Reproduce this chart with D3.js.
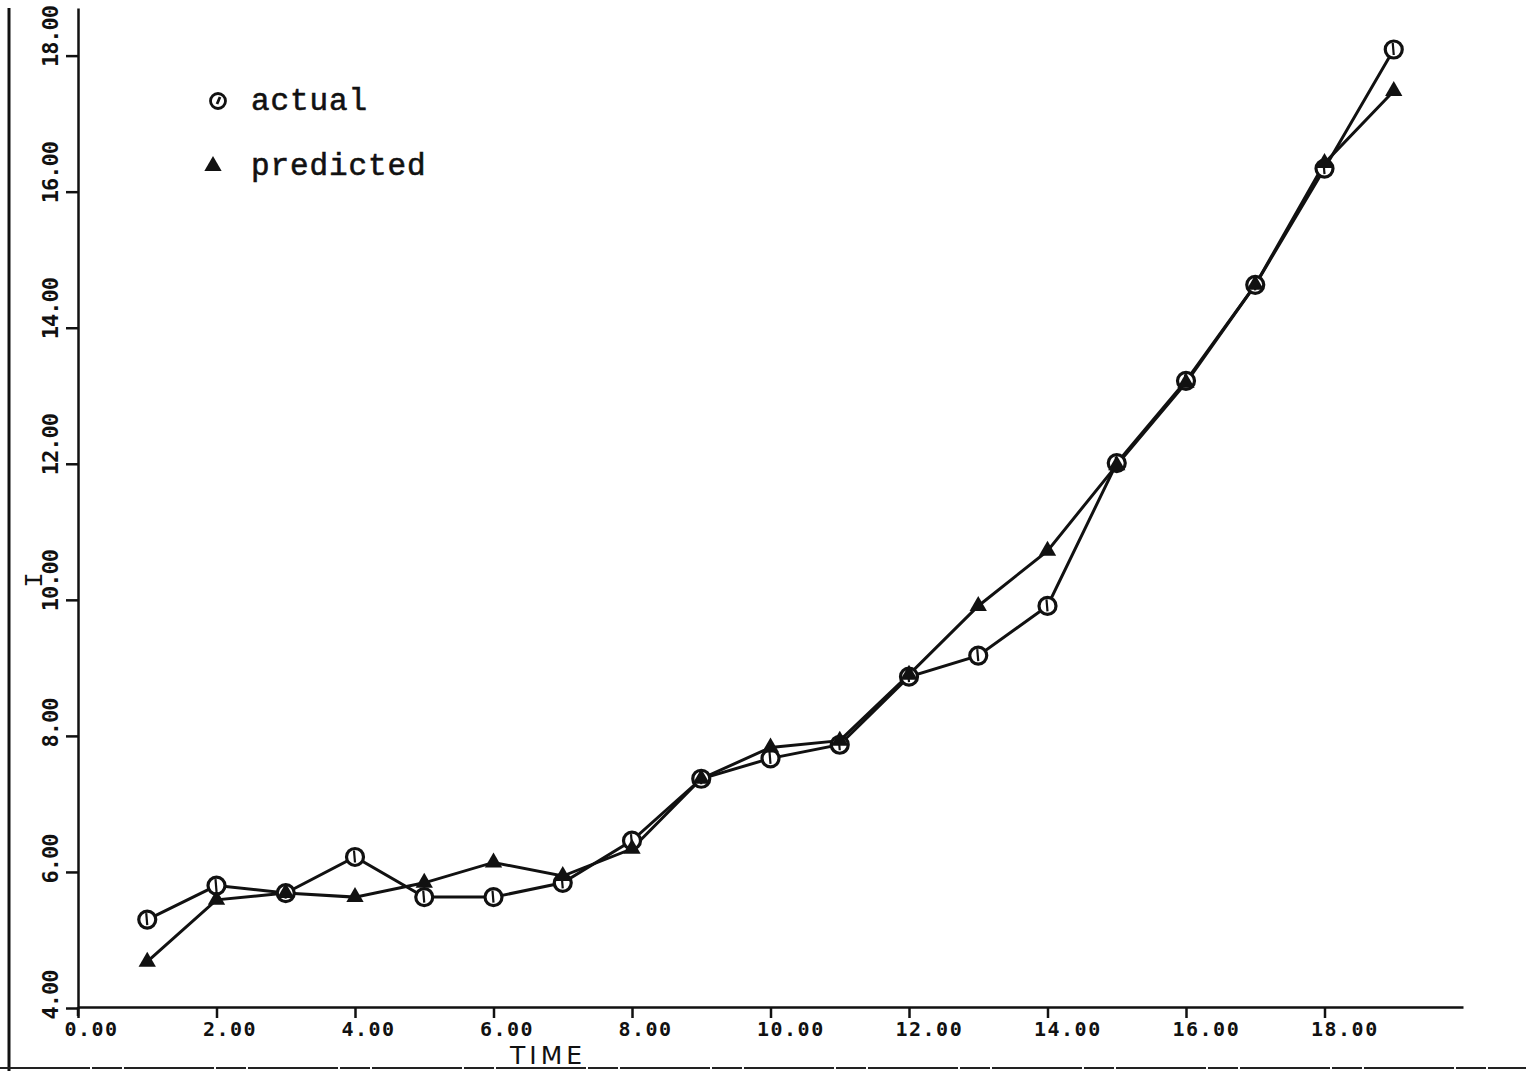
<!DOCTYPE html>
<html>
<head>
<meta charset="utf-8">
<script src="https://cdn.jsdelivr.net/npm/d3@7"></script>
<style>
  html, body { margin: 0; padding: 0; background: #fff; }
  svg { display: block; }
</style>
</head>
<body>
<svg id="chart" width="1526" height="1073"></svg>
<script>
// Time index of each observation
const time = [1, 2, 3, 4, 5, 6, 7, 8, 9, 10, 11, 12, 13, 14, 15, 16, 17, 18, 19];
// Observed values of I
const actual = [5.30, 5.80, 5.69, 6.22, 5.63, 5.63, 5.84, 6.46, 7.37, 7.67, 7.87, 8.87, 9.18, 9.91, 12.01, 13.22, 14.63, 16.34, 18.09];
// Model predictions of I
const predicted = [4.68, 5.59, 5.69, 5.63, 5.84, 6.14, 5.94, 6.34, 7.37, 7.83, 7.93, 8.90, 9.91, 10.72, 11.98, 13.19, 14.63, 16.42, 17.48];
// Axis ticks
const xTicks = [0, 2, 4, 6, 8, 10, 12, 14, 16, 18];
const yTicks = [4, 6, 8, 10, 12, 14, 16, 18];
const seriesNames = ["actual", "predicted"];
const xTitle = "TIME";
const yTitle = "I";

const svg = d3.select("#chart");
const ink = "#111";

const x = d3.scaleLinear().domain([0, 20]).range([78, 1463]);
const y = d3.scaleLinear().domain([4, 18.7]).range([1008, 8]);

// frame lines along the left and bottom edges of the sheet
svg.append("line").attr("x1", 9).attr("x2", 9).attr("y1", 8).attr("y2", 1071)
  .attr("stroke", ink).attr("stroke-width", 3);
svg.append("line").attr("x1", 0).attr("x2", 1526).attr("y1", 1068).attr("y2", 1068)
  .attr("stroke", "#222").attr("stroke-width", 2).attr("stroke-dasharray", "90 2 30 2");

// x axis
const xAxis = svg.append("g")
  .attr("transform", "translate(0,1007)")
  .call(d3.axisBottom(x).tickValues(xTicks).tickSize(11).tickSizeOuter(0)
    .tickFormat(d3.format(".2f")));
xAxis.select(".domain").attr("stroke", ink).attr("stroke-width", 2.5);
xAxis.selectAll(".tick line").attr("stroke", ink).attr("stroke-width", 2.5);
xAxis.selectAll(".tick text")
  .attr("text-anchor", "start")
  .attr("x", -14)
  .attr("y", 29)
  .attr("dy", 0)
  .attr("fill", ink)
  .style("font-family", "'DejaVu Sans Mono', monospace")
  .style("font-weight", "bold")
  .style("font-size", "20px")
  .style("letter-spacing", "1.5px");

// y axis
const yAxis = svg.append("g")
  .attr("transform", "translate(78,0)")
  .call(d3.axisLeft(y).tickValues(yTicks).tickSize(12).tickSizeOuter(0)
    .tickFormat(d3.format(".2f")));
yAxis.select(".domain").attr("stroke", ink).attr("stroke-width", 2.5);
yAxis.selectAll(".tick line").attr("stroke", ink).attr("stroke-width", 2.5);
yAxis.selectAll(".tick text")
  .attr("text-anchor", "start")
  .attr("x", null).attr("dy", null)
  .attr("transform", "translate(-20,11) rotate(-90)")
  .attr("fill", ink)
  .style("font-family", "'DejaVu Sans Mono', monospace")
  .style("font-weight", "bold")
  .style("font-size", "22px")
  .style("letter-spacing", "-1px");
// short extension of the vertical axis below the corner
svg.append("line").attr("x1", 78).attr("x2", 78).attr("y1", 1007).attr("y2", 1016)
  .attr("stroke", ink).attr("stroke-width", 2.5);

// axis titles
svg.append("text").text(xTitle)
  .attr("x", 546).attr("y", 1064).attr("text-anchor", "middle")
  .attr("fill", ink)
  .style("font-family", "'DejaVu Sans', sans-serif")
  .style("font-size", "25px")
  .attr("textLength", 72).attr("lengthAdjust", "spacing");
svg.append("text").text(yTitle)
  .attr("transform", "translate(42,580) rotate(-90)")
  .attr("text-anchor", "middle")
  .attr("fill", ink)
  .style("font-family", "'Liberation Mono', monospace")
  .style("font-size", "26px");

// series lines
const rows = time.map((t, i) => ({ t, a: actual[i], p: predicted[i] }));
const lineA = d3.line().x(d => x(d.t)).y(d => y(d.a));
const lineP = d3.line().x(d => x(d.t)).y(d => y(d.p));
svg.append("path").datum(rows).attr("d", lineA)
  .attr("fill", "none").attr("stroke", ink).attr("stroke-width", 3);
svg.append("path").datum(rows).attr("d", lineP)
  .attr("fill", "none").attr("stroke", ink).attr("stroke-width", 3);

// circle markers for the observed series
function circleMark(g, r) {
  g.append("circle").attr("r", r).attr("fill", "#fff").attr("stroke", ink).attr("stroke-width", 3.2);
  g.append("line").attr("x1", -1).attr("y1", -r + 2).attr("x2", 0).attr("y2", r - 3)
    .attr("stroke", ink).attr("stroke-width", 2.2);
}
const tri = d3.symbol().type(d3.symbolTriangle).size(130);

svg.append("g").selectAll("g").data(rows).join("g")
  .attr("transform", d => `translate(${x(d.t)},${y(d.a)})`)
  .each(function () { circleMark(d3.select(this), 8.5); });

svg.append("g").selectAll("path").data(rows).join("path")
  .attr("d", tri)
  .attr("transform", d => `translate(${x(d.t)},${y(d.p)})`)
  .attr("fill", ink);

// legend
const legend = svg.append("g");
const lg1 = legend.append("g").attr("transform", "translate(218,101)");
lg1.append("circle").attr("r", 7.5).attr("fill", "#fff").attr("stroke", ink).attr("stroke-width", 2.8);
lg1.append("line").attr("x1", 2).attr("y1", -4).attr("x2", -1).attr("y2", 3)
  .attr("stroke", ink).attr("stroke-width", 2.8);
legend.append("path").attr("d", tri).attr("transform", "translate(213,166)").attr("fill", ink);
legend.selectAll("text").data(seriesNames).join("text")
  .text(d => d)
  .attr("x", 251)
  .attr("y", (d, i) => 110 + i * 65)
  .attr("fill", ink)
  .attr("stroke", ink)
  .attr("stroke-width", 0.6)
  .style("font-family", "'Liberation Mono', 'Courier New', monospace")
  .style("font-size", "31px")
  .style("letter-spacing", "0.9px");
</script>
</body>
</html>
